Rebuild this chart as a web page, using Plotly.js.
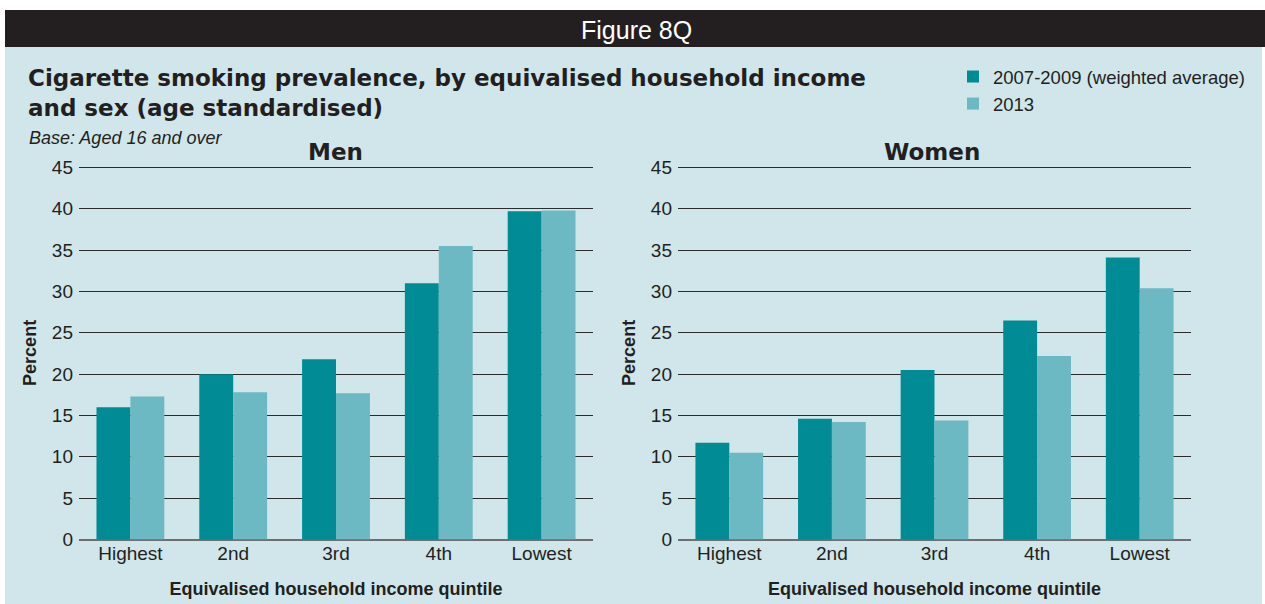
<!DOCTYPE html>
<html>
<head>
<meta charset="utf-8">
<script src="https://cdn.plot.ly/plotly-3.0.1.min.js"></script>
<style>html,body{margin:0;padding:0;background:#fff;}#chart{width:1265px;height:604px;}</style>
</head>
<body>
<div id="chart"></div>
<script>
// Data
const quintiles = ["Highest", "2nd", "3rd", "4th", "Lowest"];
const seriesNames = ["2007-2009 (weighted average)", "2013"];
const men2007_2009 = [16.0, 20.0, 21.8, 31.0, 39.7];
const men2013 = [17.3, 17.8, 17.7, 35.5, 39.8];
const women2007_2009 = [11.7, 14.6, 20.5, 26.5, 34.1];
const women2013 = [10.5, 14.2, 14.4, 22.2, 30.4];
const yTicks = [0, 5, 10, 15, 20, 25, 30, 35, 40, 45];

const W = 1265, H = 604;
const px = x => x / W;
const py = y => 1 - y / H;

const dark = "#008b95";
const light = "#6cb8c3";
const ink = "#231f20";
const sans = "Liberation Sans, Arial, sans-serif";
const heavy = "DejaVu Sans, sans-serif";

const traces = [
  {type: "bar", x: quintiles, y: men2007_2009, name: seriesNames[0], xaxis: "x", yaxis: "y",
   marker: {color: dark}, legendgroup: "a", showlegend: true},
  {type: "bar", x: quintiles, y: men2013, name: seriesNames[1], xaxis: "x", yaxis: "y",
   marker: {color: light}, legendgroup: "b", showlegend: true},
  {type: "bar", x: quintiles, y: women2007_2009, name: seriesNames[0], xaxis: "x2", yaxis: "y2",
   marker: {color: dark}, legendgroup: "a", showlegend: false},
  {type: "bar", x: quintiles, y: women2013, name: seriesNames[1], xaxis: "x2", yaxis: "y2",
   marker: {color: light}, legendgroup: "b", showlegend: false}
];

const tickFont = {family: sans, size: 19, color: ink};
const axisTitleFont = {family: sans, size: 18, color: ink, weight: "bold"};

function xAxis(domain) {
  return {
    domain: domain, type: "category", range: [-0.5, 4.5], fixedrange: true,
    showgrid: false, zeroline: false, showline: false, ticks: "", tickfont: tickFont,
    title: {text: "Equivalised household income quintile", font: axisTitleFont, standoff: 19},
    automargin: false
  };
}
function yAxis(domain, anchor) {
  return {
    domain: domain, anchor: anchor, range: [0, 45.15], tickvals: yTicks, ticktext: yTicks.map(String),
    showgrid: true, gridcolor: "#2b2b2b", gridwidth: 1,
    zeroline: true, zerolinecolor: "#6d6e71", zerolinewidth: 2,
    showline: false, ticks: "", tickfont: tickFont, fixedrange: true, ticklabelstandoff: 5,
    title: {text: "Percent", font: axisTitleFont, standoff: 10},
    automargin: false
  };
}

// 0 at 539.5 px, 45 at 167.5 px
const unitPx = (539.5 - 167.5) / 45;
const yDom = [py(539.5), py(539.5 - 45.15 * unitPx)];

const layout = {
  width: W, height: H,
  margin: {l: 0, r: 0, t: 0, b: 0},
  paper_bgcolor: "#ffffff",
  plot_bgcolor: "rgba(0,0,0,0)",
  barmode: "group", bargap: 0.34, bargroupgap: 0,
  font: {family: sans, color: ink},
  title: {
    text: "Cigarette smoking prevalence, by equivalised household income<br>and sex (age standardised)",
    x: px(28), xanchor: "left", xref: "paper",
    y: py(86), yanchor: "top", yref: "paper",
    font: {family: heavy, size: 23, color: ink, weight: "bold"}
  },
  xaxis: Object.assign(xAxis([px(79), px(593)]), {anchor: "y"}),
  yaxis: yAxis(yDom, "x"),
  xaxis2: Object.assign(xAxis([px(678), px(1191)]), {anchor: "y2"}),
  yaxis2: yAxis(yDom, "x2"),
  showlegend: true,
  legend: {
    x: px(953), xanchor: "left", y: py(58), yanchor: "top",
    bgcolor: "rgba(0,0,0,0)", borderwidth: 0,
    font: {family: sans, size: 18.5, color: ink},
    tracegroupgap: 0, itemwidth: 30
  },
  shapes: [
    {type: "rect", xref: "paper", yref: "paper", x0: px(5), x1: px(1262), y0: 0, y1: py(47),
     fillcolor: "#d0e6ea", line: {width: 0}, layer: "below"},
    {type: "rect", xref: "paper", yref: "paper", x0: px(5), x1: 1, y0: py(47), y1: py(10),
     fillcolor: ink, line: {width: 0}, layer: "below"}
  ],
  annotations: [
    {text: "Figure 8Q", xref: "paper", yref: "paper", x: px(636), y: py(30), xanchor: "center", yanchor: "middle",
     showarrow: false, font: {family: sans, size: 25, color: "#ffffff"}},
    {text: "<i>Base: Aged 16 and over</i>", xref: "paper", yref: "paper", x: px(27), y: py(138), xanchor: "left", yanchor: "middle",
     showarrow: false, font: {family: sans, size: 18, color: ink}},
    {text: "<b>Men</b>", xref: "paper", yref: "paper", x: px(335), y: py(152), xanchor: "center", yanchor: "middle",
     showarrow: false, font: {family: heavy, size: 23, color: ink}},
    {text: "<b>Women</b>", xref: "paper", yref: "paper", x: px(932), y: py(152), xanchor: "center", yanchor: "middle",
     showarrow: false, font: {family: heavy, size: 23, color: ink}}
  ]
};

Plotly.newPlot("chart", traces, layout, {displayModeBar: false, staticPlot: true});
</script>
</body>
</html>
